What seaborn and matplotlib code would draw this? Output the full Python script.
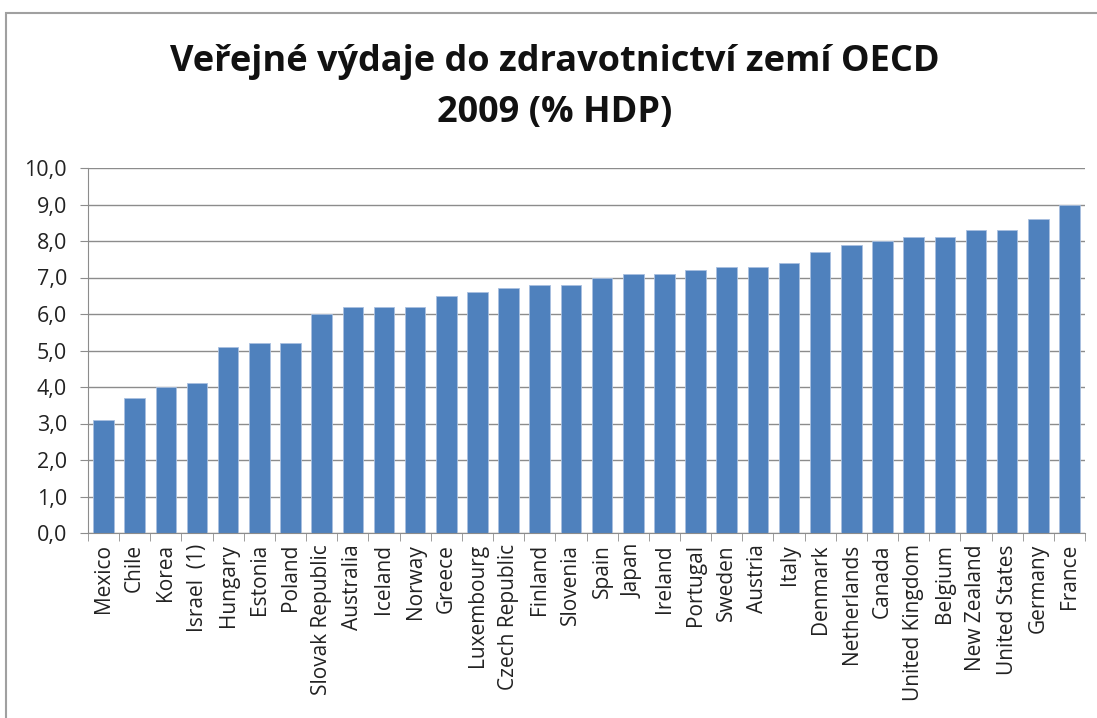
import numpy as np
import pandas as pd
import seaborn as sns
import matplotlib.pyplot as plt
from matplotlib.ticker import FixedLocator, FuncFormatter
from matplotlib.patches import Rectangle

countries = ["Mexico", "Chile", "Korea", "Israel  (1)", "Hungary", "Estonia", "Poland",
             "Slovak Republic", "Australia", "Iceland", "Norway", "Greece", "Luxembourg",
             "Czech Republic", "Finland", "Slovenia", "Spain", "Japan", "Ireland", "Portugal",
             "Sweden", "Austria", "Italy", "Denmark", "Netherlands", "Canada",
             "United Kingdom", "Belgium", "New Zealand", "United States", "Germany", "France"]
spending = [3.1, 3.7, 4.0, 4.1, 5.1, 5.2, 5.2,
            6.0, 6.2, 6.2, 6.2, 6.5, 6.6,
            6.7, 6.8, 6.8, 7.0, 7.1, 7.1, 7.2,
            7.3, 7.3, 7.4, 7.7, 7.9, 8.0,
            8.1, 8.1, 8.3, 8.3, 8.6, 9.0]
title_lines = ["Veřejné výdaje do zdravotnictví zemí OECD", "2009 (% HDP)"]

df = pd.DataFrame({"country": countries, "value": spending})

sns.set_style("white")
plt.rcParams['font.family'] = ['Open Sans', 'DejaVu Sans']

fig = plt.figure(figsize=(10.97, 7.18), dpi=100)
ax = fig.add_axes([88 / 1097, 1 - 533 / 718, (1085 - 88) / 1097, (533 - 168) / 718])

ax.set_axisbelow(True)
sns.barplot(data=df, x="country", y="value", color="#4F81BD", saturation=1,
            width=0.66, edgecolor="#A9C0E0", linewidth=0.6, ax=ax)

ax.set_ylim(0, 10)
ax.set_xlim(-0.5, len(countries) - 0.5)
ax.set_yticks(np.arange(0, 10.1, 1))
ax.yaxis.set_major_formatter(FuncFormatter(lambda v, p: f"{v:.1f}".replace(".", ",")))
ax.yaxis.grid(True, color="#8C8C8C", linewidth=1)
ax.tick_params(axis="y", length=6, color="#8C8C8C", labelsize=15.5, labelcolor="#222222", pad=9, left=True)

ax.set_xticks(range(len(countries)))
ax.set_xticklabels(countries, rotation=90)
ax.tick_params(axis="x", which="major", length=0, pad=8, labelsize=15, labelcolor="#222222")
ax.xaxis.set_minor_locator(FixedLocator(np.arange(-0.5, len(countries), 1)))
ax.tick_params(axis="x", which="minor", length=6, color="#8C8C8C", bottom=True)

ax.set_xlabel("")
ax.set_ylabel("")
for side in ["top", "right"]:
    ax.spines[side].set_visible(False)
ax.spines["left"].set_color("#8C8C8C")
ax.spines["bottom"].set_color("#8C8C8C")

fig.text(0.506, 1 - 62 / 718, title_lines[0],
         ha="center", va="center", fontsize=26, fontweight="bold", color="#111111")
fig.text(0.506, 1 - 113 / 718, title_lines[1],
         ha="center", va="center", fontsize=26, fontweight="bold", color="#111111")

top = 1 - 13 / 718
fig.patches.append(Rectangle((6 / 1097, -0.1), 1.2, top + 0.1, transform=fig.transFigure,
                             fill=False, edgecolor="#A0A0A0", linewidth=1.5))

fig.savefig("out.png", dpi=100)
